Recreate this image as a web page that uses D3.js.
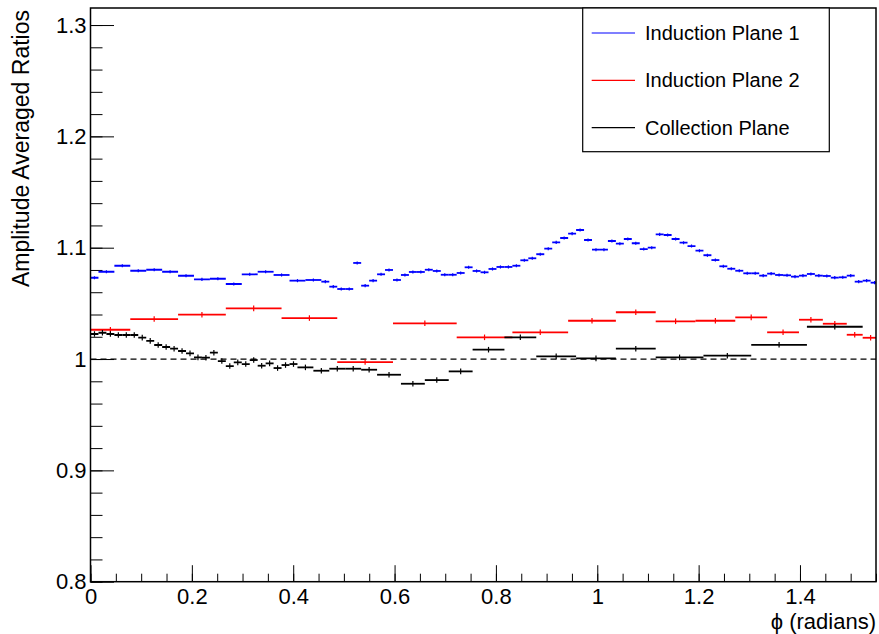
<!DOCTYPE html>
<html>
<head>
<meta charset="utf-8">
<script src="https://cdn.jsdelivr.net/npm/d3@7"></script>
<style>
  body { margin: 0; background: #fff; }
</style>
</head>
<body>
<svg id="chart"></svg>
<script>
// bin edges (radians) and bin contents, one pair per wire plane
const ind1Edges = [0, 0.0157, 0.0471, 0.0785, 0.1100, 0.1414, 0.1728, 0.2042, 0.2356, 0.2670, 0.2985,
	0.3299, 0.3613, 0.3927, 0.4241, 0.4555, 0.4712, 0.4869, 0.5027, 0.5184, 0.5341, 0.5498, 0.5655,
	0.5812, 0.5969, 0.6126, 0.6283, 0.6440, 0.6597, 0.6754, 0.6912, 0.7069, 0.7226, 0.7383, 0.7540,
	0.7697, 0.7854, 0.8011, 0.8168, 0.8325, 0.8482, 0.8639, 0.8796, 0.8954, 0.9111, 0.9268, 0.9425,
	0.9582, 0.9739, 0.9896, 1.0053, 1.0210, 1.0367, 1.0524, 1.0681, 1.0838, 1.0996, 1.1153, 1.1310,
	1.1467, 1.1624, 1.1781, 1.1938, 1.2095, 1.2252, 1.2409, 1.2566, 1.2723, 1.2881, 1.3038, 1.3195,
	1.3352, 1.3509, 1.3666, 1.3823, 1.3980, 1.4137, 1.4294, 1.4451, 1.4608, 1.4765, 1.4923, 1.5080,
	1.5237, 1.5394, 1.5551]
const ind1Values = [1.0730,
	1.0784, 1.0838, 1.0793, 1.0802, 1.0784, 1.0748, 1.0716, 1.0721, 1.0674, 1.0761, 1.0784, 1.0755, 1.0704, 1.0710,
	1.0695, 1.0650, 1.0629, 1.0629, 1.0863, 1.0659, 1.0704, 1.0761, 1.0800, 1.0710,
	1.0755, 1.0782, 1.0782, 1.0802, 1.0791, 1.0757, 1.0757, 1.0773, 1.0824, 1.0791,
	1.0779, 1.0809, 1.0827, 1.0827, 1.0838, 1.0887, 1.0905, 1.0941, 1.0991, 1.1048,
	1.1087, 1.1126, 1.1159, 1.1069, 1.0982, 1.0982, 1.1060, 1.1036, 1.1078, 1.1040,
	1.0988, 1.1000, 1.1120, 1.1114, 1.1078, 1.1045, 1.1015, 1.0973, 1.0932, 1.0889,
	1.0833, 1.0811, 1.0793, 1.0770, 1.0770, 1.0749, 1.0767, 1.0755, 1.0752, 1.0740,
	1.0749, 1.0764, 1.0749, 1.0746, 1.0731, 1.0734, 1.0749, 1.0695, 1.0704, 1.0686]

const ind2Edges = [0, 0.0785, 0.1728, 0.2670, 0.3770, 0.4869, 0.5969, 0.7226, 0.8325, 0.9425,
	1.0367, 1.1153, 1.1938, 1.2723, 1.3352, 1.3980, 1.4451, 1.4923, 1.5237, 1.5551]
const ind2Values = [1.0263, 1.0359, 1.0398, 1.0455, 1.0368, 0.9973, 1.0321, 1.0195, 1.0240, 1.0344,
	1.0420, 1.0339, 1.0344, 1.0374, 1.0240, 1.0353, 1.0317, 1.0218, 1.0191]

const collEdges = [0, 0.0157, 0.0314, 0.0471, 0.0628, 0.0785, 0.0942, 0.1100, 0.1257, 0.1414, 0.1571,
	0.1728, 0.1885, 0.2042, 0.2199, 0.2356, 0.2513, 0.2670, 0.2827, 0.2985, 0.3142, 0.3299, 0.3456,
	0.3613, 0.3770, 0.3927, 0.4084, 0.4398, 0.4712, 0.5027, 0.5341, 0.5655, 0.6126, 0.6597, 0.7069,
	0.7540, 0.8168, 0.8796, 0.9582, 1.0367, 1.1153, 1.2095, 1.3038, 1.4137, 1.5237]
const collValues = [1.0225, 1.0236, 1.0225, 1.0216, 1.0216, 1.0216, 1.0192, 1.0163, 1.0126, 1.0108,
	1.0093, 1.0072, 1.0051, 1.0015, 1.0012, 1.0057, 0.9982, 0.9937, 0.9970, 0.9955,
	0.9991, 0.9940, 0.9961, 0.9919, 0.9946, 0.9955, 0.9925, 0.9895, 0.9913, 0.9913,
	0.9904, 0.9859, 0.9778, 0.9811, 0.9889, 1.0084, 1.0195, 1.0024, 1.0006, 1.0093,
	1.0015, 1.0030, 1.0128, 1.0290]

// rough statistical error per plane (half height of the vertical bar)
const planeErrors = [0.0014, 0.0025, 0.0025]
const planeNames = ["Induction Plane 1", "Induction Plane 2", "Collection Plane"]
const planeColors = ["#0000ff", "#ff0000", "#000000"]

const xTicks = [0, 0.2, 0.4, 0.6, 0.8, 1, 1.2, 1.4]
const xTickLabels = ["0", "0.2", "0.4", "0.6", "0.8", "1", "1.2", "1.4"]
const yTicks = [0.8, 0.9, 1, 1.1, 1.2, 1.3]
const yTickLabels = ["0.8", "0.9", "1", "1.1", "1.2", "1.3"]

const width = 879
const height = 634
const frame = { left: 90.5, right: 876, top: 8, bottom: 581.7 }
const font = "'Liberation Sans', Arial, Helvetica, sans-serif"

const svg = d3.select("#chart")
	.attr("width", width)
	.attr("height", height)
	.style("font-family", font)

const x = d3.scaleLinear().domain([0, 1.55]).range([frame.left, frame.right])
const y = d3.scaleLinear().domain([0.8, 1.3153]).range([frame.bottom, frame.top])

svg.append("defs").append("clipPath")
	.attr("id", "frame-clip")
	.append("rect")
	.attr("x", frame.left)
	.attr("y", frame.top)
	.attr("width", frame.right - frame.left)
	.attr("height", frame.bottom - frame.top)

// minor ticks first, major ticks on top
const xMinor = d3.range(0, 1.5501, 0.05)
const yMinor = d3.range(0.8, 1.3101, 0.02)

svg.append("g")
	.attr("transform", `translate(0,${frame.bottom})`)
	.call(d3.axisBottom(x).tickValues(xMinor).tickSize(-8).tickFormat(""))
	.call(g => g.select(".domain").remove())

svg.append("g")
	.attr("transform", `translate(${frame.left},0)`)
	.call(d3.axisLeft(y).tickValues(yMinor).tickSize(-12).tickFormat(""))
	.call(g => g.select(".domain").remove())

const xAxis = svg.append("g")
	.attr("transform", `translate(0,${frame.bottom})`)
	.call(d3.axisBottom(x)
		.tickValues(xTicks)
		.tickFormat((d, i) => xTickLabels[i])
		.tickSize(-16.5)
		.tickPadding(7))
xAxis.select(".domain").remove()

const yAxis = svg.append("g")
	.attr("transform", `translate(${frame.left},0)`)
	.call(d3.axisLeft(y)
		.tickValues(yTicks)
		.tickFormat((d, i) => yTickLabels[i])
		.tickSize(-23.5)
		.tickPadding(4))
yAxis.select(".domain").remove()

svg.selectAll(".tick line").style("stroke", "#000").style("stroke-width", 1)
svg.selectAll(".tick text")
	.style("font-family", font)
	.style("font-size", "22px")
	.style("fill", "#000")

// reference line at ratio 1
svg.append("line")
	.attr("x1", frame.left).attr("x2", frame.right)
	.attr("y1", y(1)).attr("y2", y(1))
	.style("stroke", "#000")
	.style("stroke-width", 1.2)
	.style("stroke-dasharray", "6,4")

const series = [
	{ edges: ind1Edges, values: ind1Values },
	{ edges: ind2Edges, values: ind2Values },
	{ edges: collEdges, values: collValues }
].map((s, i) => ({ ...s, name: planeNames[i], color: planeColors[i], err: planeErrors[i] }))

const plot = svg.append("g").attr("clip-path", "url(#frame-clip)")

series.forEach(s => {
	const bins = s.values.map((v, i) => ({ lo: s.edges[i], hi: s.edges[i + 1], v }))
	const g = plot.append("g")
		.style("stroke", s.color)
		.style("stroke-width", 1.8)

	// horizontal bar = bin width
	g.selectAll(".hbar")
		.data(bins)
		.enter()
		.append("line")
		.attr("class", "hbar")
		.attr("x1", d => x(d.lo))
		.attr("x2", d => x(d.hi))
		.attr("y1", d => y(d.v))
		.attr("y2", d => y(d.v))

	// vertical bar = error
	g.selectAll(".vbar")
		.data(bins)
		.enter()
		.append("line")
		.attr("class", "vbar")
		.attr("x1", d => x((d.lo + d.hi) / 2))
		.attr("x2", d => x((d.lo + d.hi) / 2))
		.attr("y1", d => y(d.v - s.err))
		.attr("y2", d => y(d.v + s.err))
		.style("stroke-width", 1.2)
})

// frame
svg.append("rect")
	.attr("x", frame.left)
	.attr("y", frame.top)
	.attr("width", frame.right - frame.left)
	.attr("height", frame.bottom - frame.top)
	.style("fill", "none")
	.style("stroke", "#000")
	.style("stroke-width", 1.5)

// axis titles
svg.append("text")
	.attr("x", frame.right)
	.attr("y", 629)
	.attr("text-anchor", "end")
	.style("font-size", "22px")
	.text("\u03d5 (radians)")

svg.append("text")
	.attr("transform", `translate(28.5,${frame.top + 2}) rotate(-90)`)
	.attr("text-anchor", "end")
	.style("font-size", "23px")
	.text("Amplitude Averaged Ratios")

// legend
const legend = svg.append("g")
legend.append("rect")
	.attr("x", 582.7)
	.attr("y", 8)
	.attr("width", 246.6)
	.attr("height", 143.7)
	.style("fill", "#fff")
	.style("stroke", "#000")
	.style("stroke-width", 1.2)

series.forEach((s, i) => {
	const cy = 33 + i * 47.3
	legend.append("line")
		.attr("x1", 591.7).attr("x2", 635)
		.attr("y1", cy).attr("y2", cy)
		.style("stroke", s.color)
		.style("stroke-width", 1.2)
	legend.append("text")
		.attr("x", 645)
		.attr("y", cy + 7)
		.style("font-size", "20px")
		.text(s.name)
})
</script>
</body>
</html>
